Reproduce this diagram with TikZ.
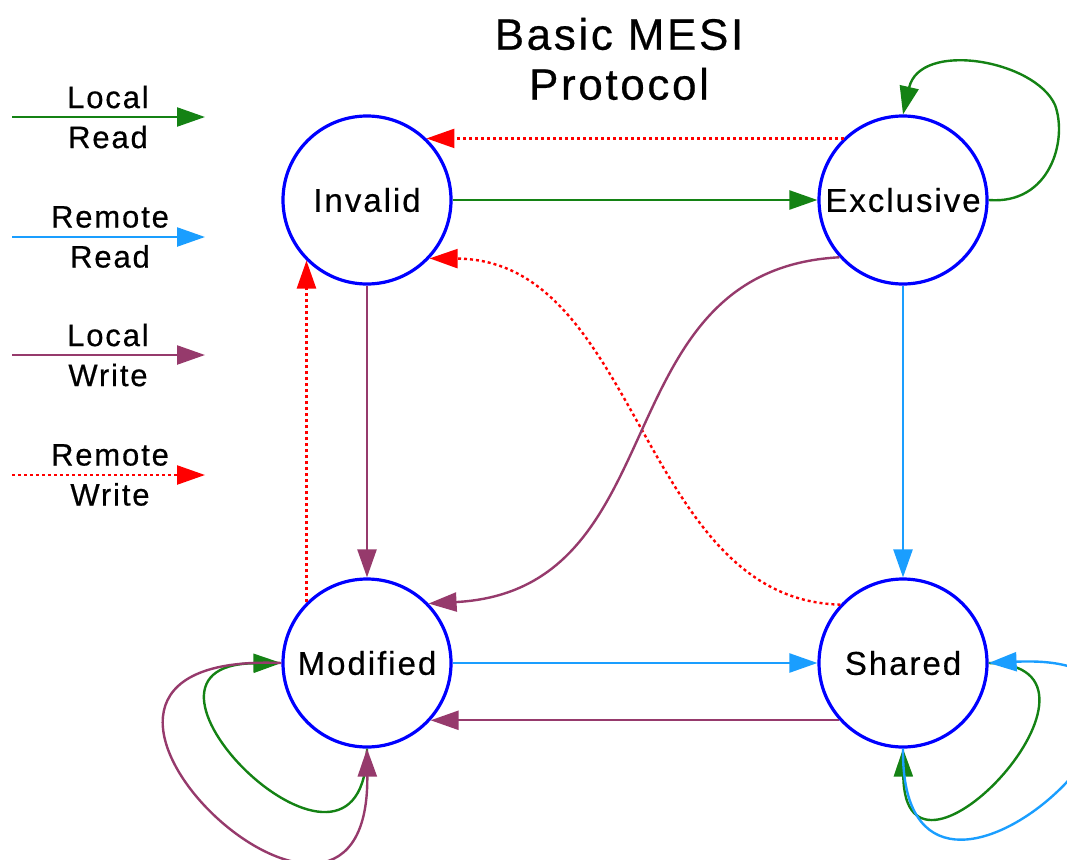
\documentclass[tikz,border=0pt]{standalone}
\usepackage{fontspec}
\setmainfont{Liberation Sans}[LetterSpace=6,FakeBold=0.5]
\usetikzlibrary{arrows.meta}
\definecolor{ruysru}{rgb}{0.078,0.510,0.078}
\definecolor{razeff}{rgb}{0.102,0.620,1.}
\definecolor{zwtawc}{rgb}{0.588,0.227,0.424}
\definecolor{ffqqqq}{rgb}{1.,0.,0.}
\definecolor{qqqqff}{rgb}{0.,0.,1.}
\begin{document}
\begin{tikzpicture}[x=1pt,y=-1pt,line join=round,
    >={Triangle[length=28pt,width=19pt]},
    state/.style={circle,draw=qqqqff,line width=3.2pt,minimum size=168pt,inner sep=0pt,font=\fontsize{33}{36}\selectfont},
    keytext/.style={align=center,inner sep=0pt,font=\fontsize{31}{40}\selectfont},
    lread/.style={->,color=ruysru,line width=2.4pt},
    rread/.style={->,color=razeff,line width=2.4pt},
    lwrite/.style={->,color=zwtawc,line width=2.4pt},
    rwrite/.style={->,color=ffqqqq,line width=2.4pt,dash pattern=on 3pt off 3pt}]
    \clip(0,0) rectangle (1067,859);
    \node (ttl) at (619,59) [align=center,inner sep=0pt,font=\fontsize{44}{50}\selectfont] {Basic MESI\\Protocol};
    \node [state] (inv) at (367,200) {Invalid};
    \node [state] (exc) at (903,200) {Exclusive};
    \node [state] (mod) at (367,663) {Modified};
    \node [state] (shr) at (903,663) {Shared};
    \draw [lread] (inv) -- (exc);
    \draw [rwrite] (exc.134) -- (inv.46);
    \draw [rwrite] (shr.137) .. controls (640,600) and (640,260) .. (inv.317);
    \draw [lwrite] (exc.222) .. controls (600,270) and (680,590) .. (mod.44);
    \draw [rread] (exc) -- (shr);
    \draw [lwrite] (inv) -- (mod);
    \draw [rwrite] (mod.135) -- (inv.225);
    \draw [rread] (mod) -- (shr);
    \draw [lwrite] (shr.222) -- (mod.318);
    \draw [lread] (exc.0) .. controls (1050,205) and (1068,140) .. (1055,105) .. controls (1035,60) and (920,40) .. (exc.90);
    \draw [lread] (mod.270) .. controls (365,930) and (95,665) .. (mod.180);
    \draw [lwrite] (mod.180) .. controls (-30,650) and (370,1030) .. (mod.270);
    \draw [lread] (shr.0) .. controls (1140,665) and (905,920) .. (shr.270);
    \draw [rread] (shr.270) .. controls (900,1000) and (1270,650) .. (shr.0);
    % key
    \coordinate (k1a) at (12,117);
    \coordinate (k1b) at (205,117);
    \coordinate (k2a) at (12,237);
    \coordinate (k2b) at (205,237);
    \coordinate (k3a) at (12,355);
    \coordinate (k3b) at (205,355);
    \coordinate (k4a) at (12,475);
    \coordinate (k4b) at (205,475);
    \draw [lread] (k1a) -- (k1b);
    \draw [rread] (k2a) -- (k2b);
    \draw [lwrite] (k3a) -- (k3b);
    \draw [rwrite] (k4a) -- (k4b);
    \node [keytext] (k1) at (108,117) {Local\\Read};
    \node [keytext] (k2) at (110,237) {Remote\\Read};
    \node [keytext] (k3) at (108,355) {Local\\Write};
    \node [keytext] (k4) at (110,475) {Remote\\Write};
\end{tikzpicture}
\end{document}
